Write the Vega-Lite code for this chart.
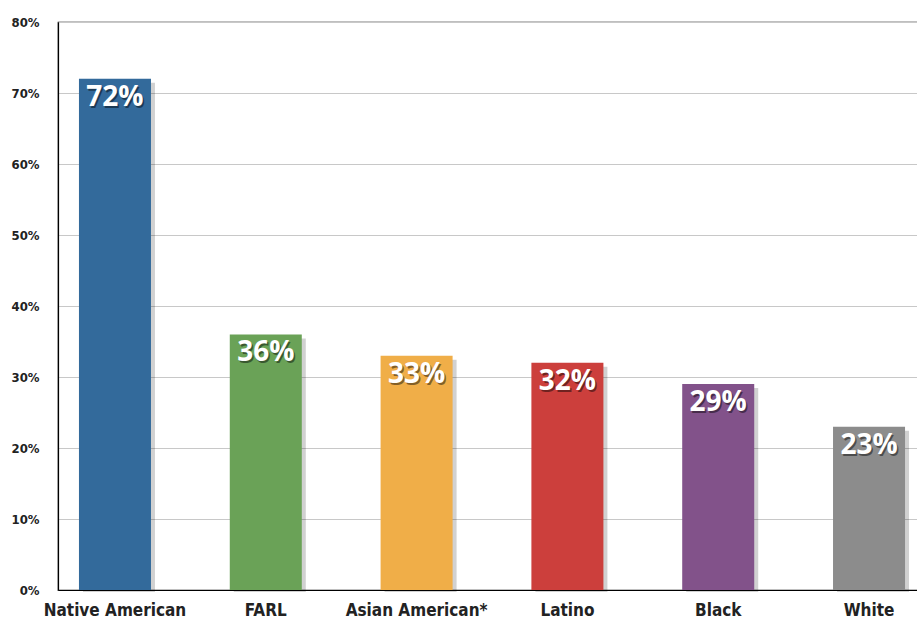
{
  "$schema": "https://vega.github.io/schema/vega-lite/v6.json",
  "autosize": {"type": "none"},
  "width": 868,
  "height": 568,
  "padding": {"left": 58, "top": 22, "right": 0, "bottom": 36},
  "background": "white",
  "config": {
    "view": {"stroke": "#000000", "strokeWidth": 1.2},
    "axis": {"grid": false, "domainColor": "#000000", "domainWidth": 1.2, "ticks": false}
  },
  "data": {
    "values": [
      {"group": "Native American", "value": 72, "label": "72%", "color": "#336a9b"},
      {"group": "FARL", "value": 36, "label": "36%", "color": "#6aa257"},
      {"group": "Asian American*", "value": 33, "label": "33%", "color": "#f0ae48"},
      {"group": "Latino", "value": 32, "label": "32%", "color": "#cc3f3c"},
      {"group": "Black", "value": 29, "label": "29%", "color": "#82528a"},
      {"group": "White", "value": 23, "label": "23%", "color": "#8c8c8c"}
    ]
  },
  "encoding": {
    "x": {
      "field": "group",
      "type": "nominal",
      "sort": null,
      "scale": {"paddingInner": 0.5225, "paddingOuter": 0.139},
      "axis": {
        "title": null,
        "labelAngle": 0,
        "labelFont": "DejaVu Sans Condensed",
        "labelFontWeight": "bold",
        "labelFontSize": 17,
        "labelColor": "#222222",
        "labelPadding": 12,
        "domain": true
      }
    },
    "y": {
      "field": "value",
      "type": "quantitative",
      "scale": {"domain": [0, 80], "nice": false},
      "axis": {
        "title": null,
        "values": [0, 10, 20, 30, 40, 50, 60, 70, 80],
        "labelExpr": "datum.value + '%'",
        "labelFont": "DejaVu Sans Condensed",
        "labelFontWeight": "bold",
        "labelFontSize": 13,
        "labelColor": "#222222",
        "labelPadding": 19,
        "grid": true,
        "gridColor": "#c8c8c8",
        "gridWidth": 1
      }
    }
  },
  "layer": [
    {
      "mark": {"type": "bar", "color": "#000000", "opacity": 0.18, "xOffset": 4, "yOffset": 4, "y2Offset": 2},
      "encoding": {"y2": {"datum": 0}}
    },
    {
      "mark": {"type": "bar"},
      "encoding": {
        "color": {"field": "color", "type": "nominal", "scale": null, "legend": null}
      }
    },
    {
      "mark": {"type": "text", "baseline": "top", "dy": 7, "dx": 1.5, "font": "Open Sans", "fontWeight": "bold", "fontSize": 28, "color": "#000000", "opacity": 0.45},
      "encoding": {"text": {"field": "label", "type": "nominal"}}
    },
    {
      "mark": {"type": "text", "baseline": "top", "dy": 5, "font": "Open Sans", "fontWeight": "bold", "fontSize": 28, "color": "#ffffff"},
      "encoding": {"text": {"field": "label", "type": "nominal"}}
    }
  ]
}
